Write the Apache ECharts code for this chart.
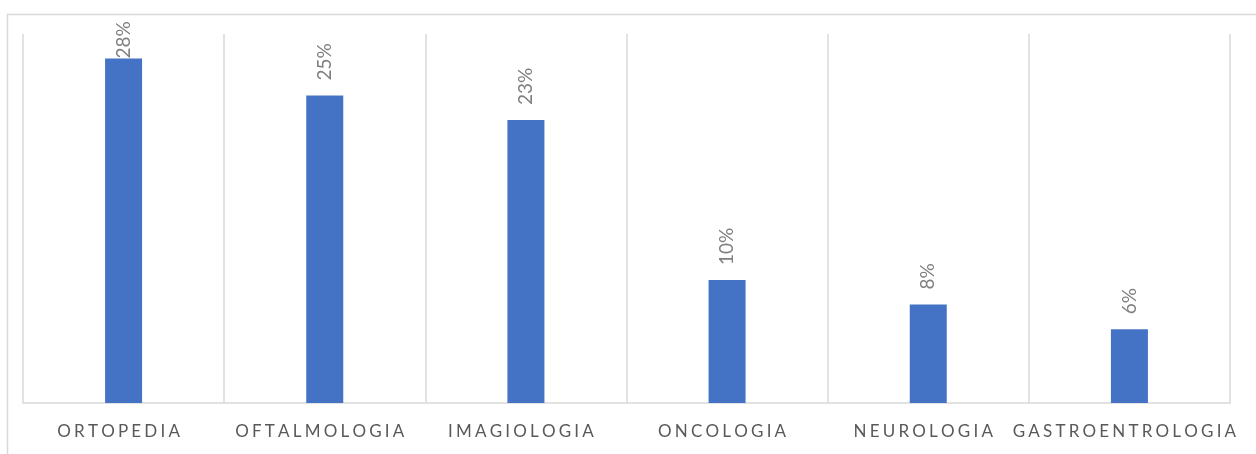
<!DOCTYPE html>
<html>
<head>
<meta charset="utf-8">
<script src="https://cdn.jsdelivr.net/npm/echarts@6/dist/echarts.min.js"></script>
<style>
html,body{margin:0;padding:0;background:#fff;}
#chart{width:1256px;height:454px;}
</style>
</head>
<body>
<div id="chart"></div>
<script>
const categories = ['ORTOPEDIA', 'OFTALMOLOGIA', 'IMAGIOLOGIA', 'ONCOLOGIA', 'NEUROLOGIA', 'GASTROENTROLOGIA'];
const values = [28, 25, 23, 10, 8, 6];
const valueLabels = ['28%', '25%', '23%', '10%', '8%', '6%'];
const axisMax = 30;

const chart = echarts.init(document.getElementById('chart'));
const spaced = s => s.split('').join('\u2009\u200a');

chart.setOption({
  animation: false,
  backgroundColor: '#ffffff',
  graphic: [{
    type: 'rect',
    shape: { x: 7.5, y: 14.5, width: 1400, height: 600 },
    style: { fill: 'none', stroke: '#d9d9d9', lineWidth: 1.5 },
    silent: true
  }],
  grid: { left: 23, right: 26, top: 34, bottom: 51, containLabel: false },
  xAxis: {
    type: 'category',
    data: categories,
    boundaryGap: true,
    axisLine: { show: true, lineStyle: { color: '#d9d9d9', width: 1.5 } },
    axisTick: { show: false },
    splitLine: { show: true, lineStyle: { color: '#d9d9d9', width: 1.5 } },
    axisLabel: {
      interval: 0,
      margin: 20,
      color: '#595959',
      fontSize: 17,
      fontFamily: 'Lato',
      hideOverlap: false,
      padding: [0, 10, 0, 0],
      formatter: v => spaced(v)
    }
  },
  yAxis: {
    type: 'value',
    min: 0,
    max: axisMax,
    show: false,
    splitLine: { show: false }
  },
  series: [{
    type: 'bar',
    barWidth: 37,
    itemStyle: { color: '#4472c4' },
    data: values.map((v, i) => i === 0
      ? { value: v, label: { distance: 0 } }
      : v),
    label: {
      show: true,
      position: 'top',
      distance: 15,
      rotate: 90,
      align: 'left',
      verticalAlign: 'middle',
      color: '#7f7f7f',
      fontSize: 19,
      fontFamily: 'Lato',
      formatter: p => valueLabels[p.dataIndex]
    }
  }]
});
</script>
</body>
</html>
